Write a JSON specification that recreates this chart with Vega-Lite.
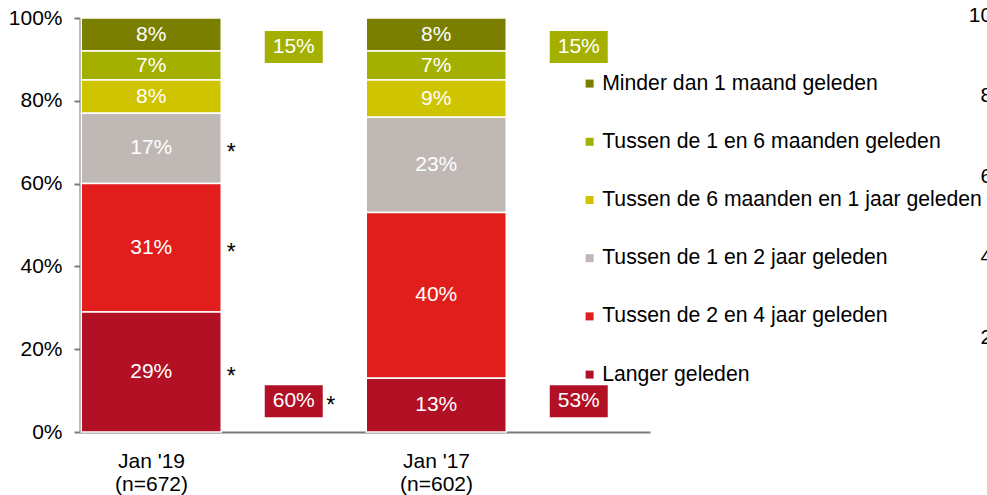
{
  "$schema": "https://vega.github.io/schema/vega-lite/v6.json",
  "width": 570,
  "height": 414,
  "autosize": {"type": "none"},
  "padding": {"left": 80, "top": 18, "right": 337, "bottom": 63},
  "background": "white",
  "config": {
    "font": "Liberation Sans",
    "view": {"stroke": null},
    "axis": {"grid": false, "title": null},
    "axisX": {"domainColor": "#7a7a7a", "domainWidth": 2, "ticks": false, "tickSize": 0, "labelFontSize": 21, "labelColor": "#000000", "labelPadding": 18, "labelLineHeight": 23, "labelAngle": 0, "labelOffset": -71},
    "axisY": {"domainColor": "#7a7a7a", "domainWidth": 2, "tickColor": "#7a7a7a", "tickWidth": 2, "tickSize": 6, "labelFontSize": 21, "labelColor": "#000000", "labelPadding": 12}
  },
  "datasets": {
    "segments": [
      {"period": "Jan '19", "n": 672, "category": "Minder dan 1 maand geleden", "ord": 6, "value": 8, "sig": ""},
      {"period": "Jan '19", "n": 672, "category": "Tussen de 1 en 6 maanden geleden", "ord": 5, "value": 7, "sig": ""},
      {"period": "Jan '19", "n": 672, "category": "Tussen de 6 maanden en 1 jaar geleden", "ord": 4, "value": 8, "sig": ""},
      {"period": "Jan '19", "n": 672, "category": "Tussen de 1 en 2 jaar geleden", "ord": 3, "value": 17, "sig": "*"},
      {"period": "Jan '19", "n": 672, "category": "Tussen de 2 en 4 jaar geleden", "ord": 2, "value": 31, "sig": "*"},
      {"period": "Jan '19", "n": 672, "category": "Langer geleden", "ord": 1, "value": 29, "sig": "*"},
      {"period": "Jan '17", "n": 602, "category": "Minder dan 1 maand geleden", "ord": 6, "value": 8, "sig": ""},
      {"period": "Jan '17", "n": 602, "category": "Tussen de 1 en 6 maanden geleden", "ord": 5, "value": 7, "sig": ""},
      {"period": "Jan '17", "n": 602, "category": "Tussen de 6 maanden en 1 jaar geleden", "ord": 4, "value": 9, "sig": ""},
      {"period": "Jan '17", "n": 602, "category": "Tussen de 1 en 2 jaar geleden", "ord": 3, "value": 23, "sig": ""},
      {"period": "Jan '17", "n": 602, "category": "Tussen de 2 en 4 jaar geleden", "ord": 2, "value": 40, "sig": ""},
      {"period": "Jan '17", "n": 602, "category": "Langer geleden", "ord": 1, "value": 13, "sig": ""}
    ],
    "summary": [
      {"period": "Jan '19", "group": "minder dan 6 maanden", "value": 15, "sig": ""},
      {"period": "Jan '17", "group": "minder dan 6 maanden", "value": 15, "sig": ""},
      {"period": "Jan '19", "group": "meer dan 2 jaar", "value": 60, "sig": "*"},
      {"period": "Jan '17", "group": "meer dan 2 jaar", "value": 53, "sig": ""}
    ]
  },
  "layer": [
    {
      "layer": [
        {
          "data": {"name": "segments"},
          "transform": [
            {"stack": "value", "groupby": ["period"], "sort": [{"field": "ord", "order": "ascending"}], "as": ["y0", "y1"]},
            {"calculate": "(datum.y0 + datum.y1) / 2", "as": "ym"},
            {"calculate": "datum.value + '%'", "as": "label"},
            {"calculate": "'staaf'", "as": "slot"}
          ],
          "layer": [
            {
              "mark": {"type": "bar", "width": 140, "stroke": "white", "strokeWidth": 1.5},
              "encoding": {
                "x": {"field": "period", "type": "nominal", "title": null, "sort": null,
                      "scale": {"domain": ["Jan '19", "Jan '17"], "paddingInner": 0, "paddingOuter": 0},
                      "axis": {"labelExpr": "datum.value == \"Jan '19\" ? [\"Jan '19\", \"(n=672)\"] : [\"Jan '17\", \"(n=602)\"]"}},
                "xOffset": {"field": "slot", "type": "nominal", "scale": {"domain": ["staaf", "totaal"], "paddingInner": 0, "paddingOuter": 0}},
                "y": {"field": "y0", "type": "quantitative", "title": null,
                      "scale": {"domain": [0, 100], "nice": false},
                      "axis": {"values": [0, 20, 40, 60, 80, 100], "labelExpr": "datum.value + '%'"}},
                "y2": {"field": "y1"},
                "color": {"field": "category", "type": "nominal",
                          "scale": {"domain": ["Minder dan 1 maand geleden", "Tussen de 1 en 6 maanden geleden", "Tussen de 6 maanden en 1 jaar geleden", "Tussen de 1 en 2 jaar geleden", "Tussen de 2 en 4 jaar geleden", "Langer geleden"],
                                    "range": ["#7A7F00", "#A3B000", "#CFC400", "#BFB8B5", "#E21E1C", "#B21024"]},
                          "legend": {"orient": "none", "legendX": 499, "legendY": 55, "title": null, "symbolType": "square", "symbolSize": 64, "symbolStrokeWidth": 0, "labelFontSize": 21.2, "labelColor": "#000000", "rowPadding": 36.2, "labelOffset": 2, "padding": 0, "labelLimit": 600}}
              }
            },
            {
              "mark": {"type": "text", "color": "white", "fontSize": 21, "baseline": "middle", "align": "center"},
              "encoding": {
                "x": {"field": "period", "type": "nominal", "title": null},
                "xOffset": {"field": "slot", "type": "nominal"},
                "y": {"field": "ym", "type": "quantitative", "title": null},
                "text": {"field": "label"}
              }
            },
            {
              "transform": [{"filter": "datum.sig == '*'"}],
              "mark": {"type": "text", "color": "black", "fontSize": 23, "baseline": "middle", "align": "center", "dx": 80, "dy": 5},
              "encoding": {
                "x": {"field": "period", "type": "nominal", "title": null},
                "xOffset": {"field": "slot", "type": "nominal"},
                "y": {"field": "ym", "type": "quantitative", "title": null},
                "text": {"field": "sig"}
              }
            }
          ]
        },
        {
          "data": {"name": "summary"},
          "transform": [
            {"calculate": "datum.value + '%'", "as": "label"},
            {"calculate": "'totaal'", "as": "slot"}
          ],
          "layer": [
            {
              "transform": [{"filter": "datum.group == 'minder dan 6 maanden'"}],
              "layer": [
                {
                  "mark": {"type": "point", "filled": true, "opacity": 1, "size": 3364, "shape": "M-1,-0.552L1,-0.552L1,0.552L-1,0.552Z", "color": "#A3B000", "strokeWidth": 0},
                  "encoding": {
                    "x": {"field": "period", "type": "nominal", "title": null},
                    "xOffset": {"field": "slot", "type": "nominal"},
                    "y": {"datum": 93, "type": "quantitative", "title": null}
                  }
                },
                {
                  "mark": {"type": "text", "color": "white", "fontSize": 21, "baseline": "middle", "align": "center"},
                  "encoding": {
                    "x": {"field": "period", "type": "nominal", "title": null},
                    "xOffset": {"field": "slot", "type": "nominal"},
                    "y": {"datum": 93, "type": "quantitative", "title": null},
                    "text": {"field": "label"}
                  }
                }
              ]
            },
            {
              "transform": [{"filter": "datum.group == 'meer dan 2 jaar'"}],
              "layer": [
                {
                  "mark": {"type": "point", "filled": true, "opacity": 1, "size": 3364, "shape": "M-1,-0.552L1,-0.552L1,0.552L-1,0.552Z", "color": "#B21024", "strokeWidth": 0},
                  "encoding": {
                    "x": {"field": "period", "type": "nominal", "title": null},
                    "xOffset": {"field": "slot", "type": "nominal"},
                    "y": {"datum": 7.4, "type": "quantitative", "title": null}
                  }
                },
                {
                  "mark": {"type": "text", "color": "white", "fontSize": 21, "baseline": "middle", "align": "center"},
                  "encoding": {
                    "x": {"field": "period", "type": "nominal", "title": null},
                    "xOffset": {"field": "slot", "type": "nominal"},
                    "y": {"datum": 7.4, "type": "quantitative", "title": null},
                    "text": {"field": "label"}
                  }
                },
                {
                  "transform": [{"filter": "datum.sig == '*'"}],
                  "mark": {"type": "text", "color": "black", "fontSize": 23, "baseline": "middle", "align": "center", "dx": 37, "dy": 5},
                  "encoding": {
                    "x": {"field": "period", "type": "nominal", "title": null},
                    "xOffset": {"field": "slot", "type": "nominal"},
                    "y": {"datum": 7.4, "type": "quantitative", "title": null},
                    "text": {"field": "sig"}
                  }
                }
              ]
            }
          ]
        }
      ]
    },
    {
      "data": {"values": [{"note": "as van naastgelegen grafiek"}]},
      "mark": {"type": "rule", "opacity": 0},
      "encoding": {
        "y": {"datum": 0, "type": "quantitative", "title": null,
              "scale": {"domain": [0, 100], "range": [399.5, -3], "nice": false},
              "axis": {"orient": "right", "domain": false, "ticks": false, "tickSize": 0, "labelAlign": "right", "labelPadding": 372, "labelFontSize": 21, "values": [0, 20, 40, 60, 80, 100], "labelExpr": "datum.value + '%'"}}
      }
    }
  ],
  "resolve": {"scale": {"y": "independent"}}
}
